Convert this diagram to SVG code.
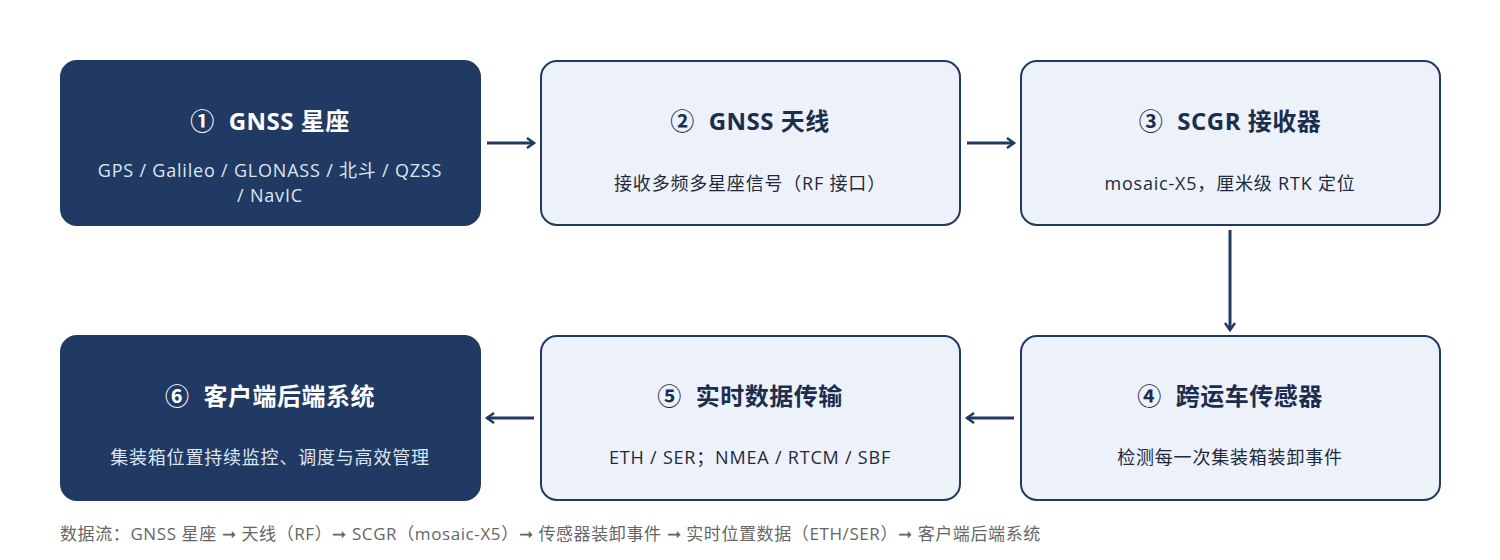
<svg xmlns="http://www.w3.org/2000/svg" width="1500" height="560" viewBox="0 0 1500 560">
<defs>
<marker id="ah" markerWidth="12" markerHeight="12" refX="9" refY="6" orient="auto" markerUnits="userSpaceOnUse"><path d="M2,1 L9,6 L2,11" fill="none" stroke="#213a63" stroke-width="2.5"/></marker>
<style>
text{font-family:"Open Sans","Noto Sans CJK SC",sans-serif;text-anchor:middle}
.d{fill:#213a63;stroke:#213a63;stroke-width:2}
.l{fill:#edf2fa;stroke:#213a63;stroke-width:2}
.td{fill:#fff;font-size:24px;font-weight:bold;letter-spacing:0.5px}
.tl{fill:#1c2d4d;font-size:24px;font-weight:bold;letter-spacing:0.5px}
.sd{fill:#dde6f3;font-size:18px;letter-spacing:0.8px}
.sl{fill:#1e2a3c;font-size:18px;letter-spacing:0.8px}
.c{stroke:#213a63;stroke-width:3;fill:none;marker-end:url(#ah)}
</style>
</defs>
<rect width="1500" height="560" fill="#fff"/>
<g id="n1"><rect class="d" x="61" y="61" width="419" height="164" rx="16"/><text class="td" x="270" y="130">①<tspan dx="14">GNSS 星座</tspan></text><text class="sd" x="270" y="177">GPS / Galileo / GLONASS / 北斗 / QZSS</text><text class="sd" x="270" y="202">/ NavIC</text></g>
<g id="n2"><rect class="l" x="541" y="61" width="419" height="164" rx="16"/><text class="tl" x="750" y="130">②<tspan dx="14">GNSS 天线</tspan></text><text class="sl" x="750" y="190">接收多频多星座信号（RF 接口）</text></g>
<g id="n3"><rect class="l" x="1021" y="61" width="419" height="164" rx="16"/><text class="tl" x="1230" y="130">③<tspan dx="14">SCGR 接收器</tspan></text><text class="sl" x="1230" y="190">mosaic-X5，厘米级 RTK 定位</text></g>
<g id="n4"><rect class="l" x="1021" y="336" width="419" height="164" rx="16"/><text class="tl" x="1230" y="405">④<tspan dx="14">跨运车传感器</tspan></text><text class="sl" x="1230" y="464">检测每一次集装箱装卸事件</text></g>
<g id="n5"><rect class="l" x="541" y="336" width="419" height="164" rx="16"/><text class="tl" x="750" y="405">⑤<tspan dx="14">实时数据传输</tspan></text><text class="sl" x="750" y="464">ETH / SER；NMEA / RTCM / SBF</text></g>
<g id="n6"><rect class="d" x="61" y="336" width="419" height="164" rx="16"/><text class="td" x="270" y="405">⑥<tspan dx="14">客户端后端系统</tspan></text><text class="sd" x="270" y="464">集装箱位置持续监控、调度与高效管理</text></g>
<g id="connectors">
<path class="c" d="M487,143 H534"/>
<path class="c" d="M967,143 H1014"/>
<path class="c" d="M1230,230 V330"/>
<path class="c" d="M1014,418 H967"/>
<path class="c" d="M534,418 H487"/>
</g>
<text x="60" y="540" style="text-anchor:start;font-size:17px;letter-spacing:0.6px;fill:#666">数据流：GNSS 星座 ➞ 天线（RF）➞ SCGR（mosaic-X5）➞ 传感器装卸事件 ➞ 实时位置数据（ETH/SER）➞ 客户端后端系统</text>
</svg>
